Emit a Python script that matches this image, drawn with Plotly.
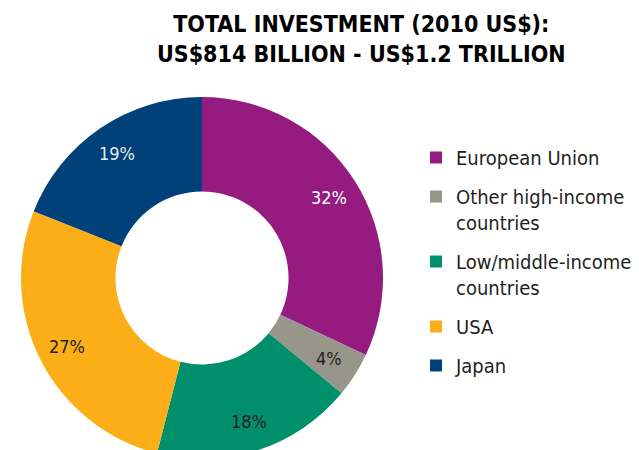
import math
import plotly.graph_objects as go

# Share of total investment by region
regions = [
    "European Union",
    "Other high-income<br>countries",
    "Low/middle-income<br>countries",
    "USA",
    "Japan",
]
shares = [32, 4, 18, 27, 19]
slice_colors = ["#951b81", "#96968b", "#008f6b", "#fbae18", "#004179"]
label_colors = ["#ffffff", "#231f20", "#231f20", "#231f20", "#e8e8e8"]

title_text = "TOTAL INVESTMENT (2010 US$):<br>US$814 BILLION - US$1.2 TRILLION"

W, H = 639, 470
narrow = "DejaVu Sans Condensed, Liberation Sans Narrow, Arial Narrow, sans-serif"

# donut placement (pixels from the top-left of the page)
cx, cy, R = 202, 278, 181
hole = 0.478

fig = go.Figure()
fig.add_trace(
    go.Pie(
        labels=regions,
        values=shares,
        sort=False,
        direction="clockwise",
        rotation=0,
        hole=hole,
        marker=dict(colors=slice_colors, line=dict(width=0)),
        textinfo="none",
        showlegend=False,
        domain=dict(x=[(cx - R) / W, (cx + R) / W], y=[(H - cy - R) / H, (H - cy + R) / H]),
        hoverinfo="label+percent",
    )
)

# legend entries, one group per region so the gap between them can be set
for name, col in zip(regions, slice_colors):
    fig.add_trace(
        go.Scatter(
            x=[None], y=[None], mode="markers", name=name, legendgroup=name,
            marker=dict(symbol="square", size=12, color=col),
        )
    )

# percentage labels placed along each slice's mid-angle
total = sum(shares)
label_r = 151
cum = 0
for v, tc in zip(shares, label_colors):
    mid = (cum + v / 2) / total * 2 * math.pi
    cum += v
    px = cx + label_r * math.sin(mid)
    py = cy - label_r * math.cos(mid)
    fig.add_annotation(
        x=px / W, y=1 - py / H, xref="paper", yref="paper",
        text=f"{v}%", showarrow=False, xanchor="center", yanchor="middle",
        font=dict(family=narrow, size=18, color=tc),
    )

fig.add_annotation(
    x=361 / W, y=1 - 9 / H, xref="paper", yref="paper",
    text="<b>" + title_text + "</b>", showarrow=False,
    xanchor="center", yanchor="top", align="center",
    font=dict(family=narrow, size=23, color="#000000"),
)

fig.update_layout(
    width=W,
    height=H,
    margin=dict(l=0, r=0, t=0, b=0),
    paper_bgcolor="white",
    plot_bgcolor="white",
    xaxis=dict(visible=False),
    yaxis=dict(visible=False),
    showlegend=True,
    legend=dict(
        x=416 / W,
        xanchor="left",
        y=1 - 138 / H,
        yanchor="top",
        traceorder="grouped",
        tracegroupgap=10,
        valign="top",
        font=dict(family=narrow, size=20, color="#231f20"),
        bgcolor="rgba(0,0,0,0)",
        itemclick=False,
    ),
)

fig.write_html(
    "out.html",
    post_script=(
        "document.documentElement.style.height='450px';"
        "document.documentElement.style.overflow='hidden';"
        "document.body.style.height='450px';"
        "document.body.style.overflow='hidden';"
        "document.body.style.margin='0';"
    ),
)
